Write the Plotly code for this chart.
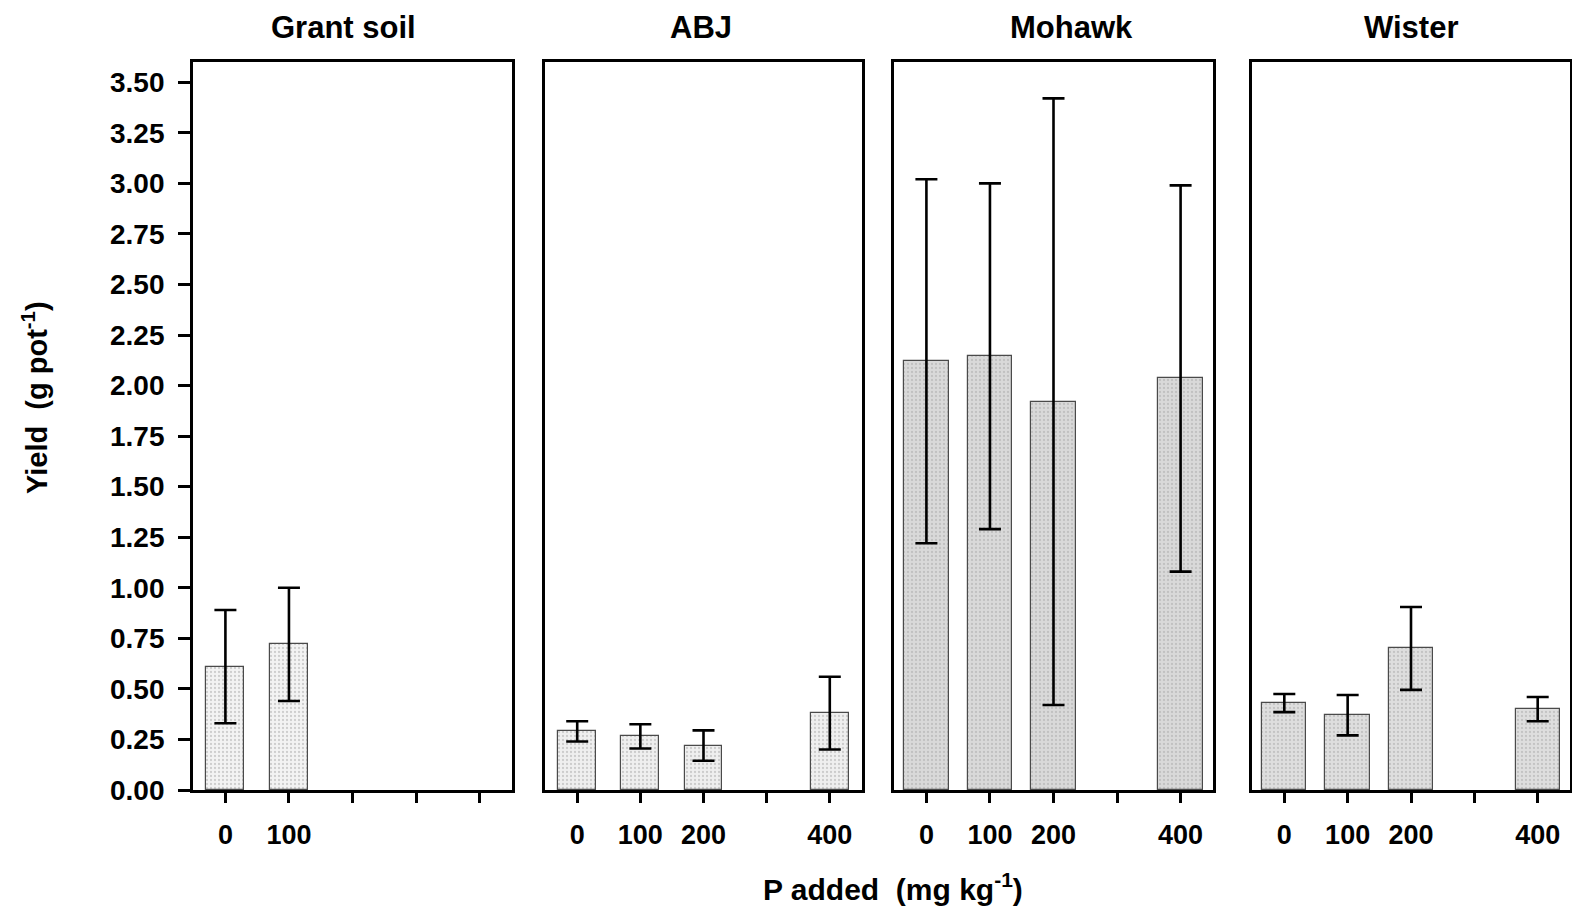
import plotly.graph_objects as go

# ---------------- data ----------------
soils = ["Grant soil", "ABJ", "Mohawk", "Wister"]

p_grant = [0, 100]
yield_grant = [0.61, 0.72]
err_grant = [0.28, 0.28]

p_abj = [0, 100, 200, 400]
yield_abj = [0.29, 0.265, 0.22, 0.38]
err_abj = [0.05, 0.06, 0.075, 0.18]

p_mohawk = [0, 100, 200, 400]
yield_mohawk = [2.12, 2.145, 1.92, 2.035]
err_mohawk = [0.90, 0.855, 1.50, 0.955]

p_wister = [0, 100, 200, 400]
yield_wister = [0.43, 0.37, 0.70, 0.40]
err_wister = [0.045, 0.10, 0.205, 0.06]

# labelled and unlabelled x tick positions per panel
x_labelled_grant = [0, 100]
x_unlabelled_grant = [200, 300, 400]
x_labelled_other = [0, 100, 200, 400]
x_unlabelled_other = [300]

y_tickvals = [0.0, 0.25, 0.5, 0.75, 1.0, 1.25, 1.5, 1.75, 2.0, 2.25, 2.5, 2.75, 3.0, 3.25, 3.5]
y_ticktext = ["%.2f" % v for v in y_tickvals]

# ---------------- style ----------------
W, H = 1572, 910
FONT = "Liberation Sans, Arial, Helvetica, sans-serif"
panel_px = [(193, 512), (545, 862), (894, 1213), (1252, 1570)]
top_px, bottom_px = 62, 790
bar_widths = [60, 60, 70, 70]
fills = ["#f3f3f3", "#efefef", "#d9d9d9", "#dedede"]
title_x_px = [343, 701, 1071, 1411]

series = [
    (p_grant, yield_grant, err_grant),
    (p_abj, yield_abj, err_abj),
    (p_mohawk, yield_mohawk, err_mohawk),
    (p_wister, yield_wister, err_wister),
]

fig = go.Figure()
layout = dict(
    width=W, height=H,
    margin=dict(l=0, r=0, t=0, b=0, autoexpand=False),
    paper_bgcolor="white", plot_bgcolor="white",
    showlegend=False,
    font=dict(family=FONT, color="black", size=27),
    bargap=0,
)

for i, (px, yv, ev) in enumerate(series):
    n = "" if i == 0 else str(i + 1)
    fig.add_trace(go.Bar(
        x=px, y=yv, width=bar_widths[i],
        xaxis="x" + n, yaxis="y" + n,
        marker=dict(
            color=fills[i],
            line=dict(color="#4a4a4a", width=1.2),
            pattern=dict(shape=".", fgcolor="#a8a8a8", bgcolor=fills[i], size=4, solidity=0.25),
        ),
        error_y=dict(type="data", array=ev, visible=True, color="black", thickness=2.6, width=11),
    ))
    x0, x1 = panel_px[i]
    labelled = x_labelled_grant if i == 0 else x_labelled_other
    unlabelled = x_unlabelled_grant if i == 0 else x_unlabelled_other
    layout["xaxis" + n] = dict(
        domain=[x0 / W, x1 / W], range=[-51, 451],
        anchor="y" + n, automargin=False,
        showline=True, linecolor="black", linewidth=2.8, mirror=True,
        showgrid=False, zeroline=False,
        tickmode="array", tickvals=labelled, ticktext=[str(v) for v in labelled],
        ticks="outside", ticklen=10, tickwidth=2.8, tickcolor="black",
        minor=dict(tickmode="array", tickvals=unlabelled, ticks="outside",
                   ticklen=10, tickwidth=2.8, tickcolor="black", showgrid=False),
        tickfont=dict(family=FONT, size=27, color="black", weight="bold"),
        ticklabelstandoff=9,
        fixedrange=True,
    )
    layout["yaxis" + n] = dict(
        domain=[1 - bottom_px / H, 1 - top_px / H], range=[0, 3.6],
        anchor="x" + n, automargin=False,
        showline=True, linecolor="black", linewidth=2.8, mirror=True,
        showgrid=False, zeroline=False,
        tickmode="array", tickvals=y_tickvals, ticktext=y_ticktext,
        ticks="outside" if i == 0 else "", ticklen=12, tickwidth=2.8, tickcolor="black",
        showticklabels=(i == 0),
        tickfont=dict(family=FONT, size=28, color="black", weight="bold"),
        ticklabelstandoff=8,
        fixedrange=True,
    )

annotations = []
for i, name in enumerate(soils):
    annotations.append(dict(
        text="<b>%s</b>" % name, xref="paper", yref="paper",
        x=title_x_px[i] / W, y=1 - 27 / H, xanchor="center", yanchor="middle",
        showarrow=False, font=dict(family=FONT, size=31, color="black"),
    ))
annotations.append(dict(
    text="<b>P added&nbsp; (mg kg<sup>-1</sup>)</b>", xref="paper", yref="paper",
    x=893 / W, y=1 - 887 / H, xanchor="center", yanchor="middle",
    showarrow=False, font=dict(family=FONT, size=30, color="black"),
))
annotations.append(dict(
    text="<b>Yield&nbsp; (g pot<sup>-1</sup>)</b>", xref="paper", yref="paper",
    x=35 / W, y=1 - 398 / H, xanchor="center", yanchor="middle", textangle=-90,
    showarrow=False, font=dict(family=FONT, size=29, color="black"),
))
layout["annotations"] = annotations

fig.update_layout(**layout)
fig.write_html("out.html")
